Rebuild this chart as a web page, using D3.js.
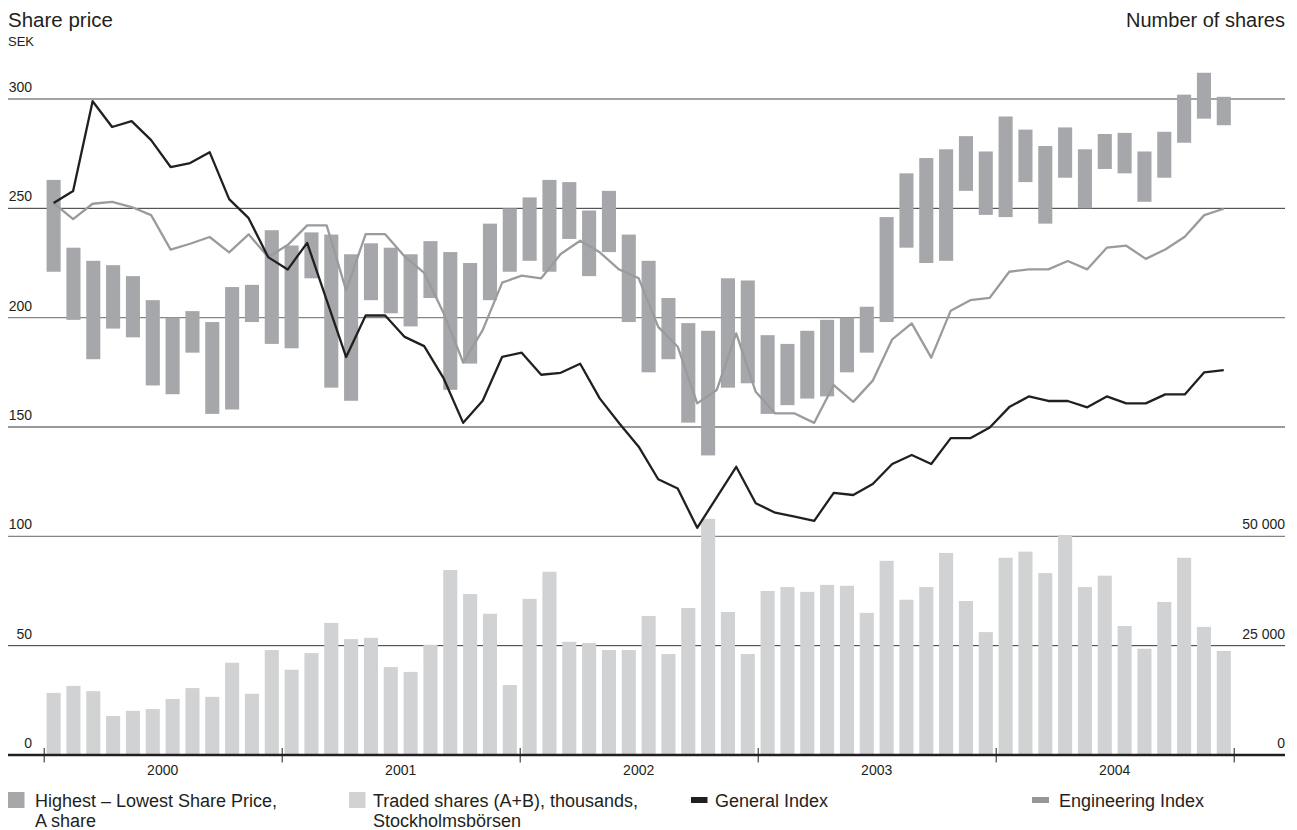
<!DOCTYPE html>
<html>
<head>
<meta charset="utf-8">
<script src="https://cdn.jsdelivr.net/npm/d3@7"></script>
<style>
  html, body { margin: 0; padding: 0; background: #fff; }
  svg { display: block; font-family: "Liberation Sans", Arial, Helvetica, sans-serif; }
</style>
</head>
<body>
<svg id="chart" width="1297" height="830"></svg>
<script>
// Monthly A-share price range (SEK), Jan 2000 – Dec 2004
const years = [2000, 2001, 2002, 2003, 2004];
const priceHigh = [
  263, 232, 226, 224, 219, 208, 200, 203, 198, 214, 215, 240,
  233, 239, 238, 229, 234, 232, 229, 235, 230, 225, 243, 250,
  255, 263, 262, 249, 258, 238, 226, 209, 197.5, 194, 218, 217,
  192, 188, 194, 199, 200, 205, 246, 266, 273, 277, 283, 276,
  292, 286, 278.5, 287, 277, 284, 284.5, 276, 285, 302, 312, 301
];
const priceLow = [
  221, 199, 181, 195, 191, 169, 165, 184, 156, 158, 198, 188,
  186, 218, 168, 162, 208, 202, 196, 209, 167, 179, 208, 221,
  226, 221, 236, 219, 230, 198, 175, 181, 152, 137, 168, 170,
  156, 160, 163, 164, 175, 184, 198, 232, 225, 226, 258, 247,
  246, 262, 243, 264, 250, 268, 266, 253, 264, 280, 291, 288
];
// Traded shares (A+B), thousands
const tradedShares = [
  14200, 15800, 14600, 8900, 10100, 10500, 12800, 15300, 13300, 21100, 14000, 24000,
  19500, 23300, 30200, 26500, 26800, 20100, 19000, 25200, 42300, 36800, 32300, 16000,
  35700, 41900, 25900, 25600, 24000, 24000, 31800, 23100, 33600, 54000, 32700, 23100,
  37500, 38400, 37300, 38900, 38700, 32500, 44400, 35500, 38400, 46200, 35200, 28100,
  45100, 46500, 41600, 50300, 38400, 41000, 29500, 24300, 35000, 45100, 29300, 23800
];
// Index series, rebased to the share price
const generalIndex = [
  252.4, 257.9, 299.0, 287.2, 289.9, 281.2, 268.9, 270.7, 275.7, 254.2, 245.5,
  227.7, 222.0, 234.2, 208.0, 182.0, 201.0, 201.0, 191.2, 187.0, 172.2,
  151.9, 162.0, 182.1, 184.0, 173.9, 174.8, 178.9, 163.1, 151.7, 141.0,
  126.1, 121.9, 103.9, 117.8, 131.8, 115.1, 110.8, 109.0, 107.1, 119.9,
  118.9, 123.9, 133.1, 137.2, 133.1, 144.9, 144.9, 149.8, 159.1, 164.0,
  161.9, 161.9, 159.0, 164.0, 160.8, 160.8, 164.9, 164.9, 175.0, 176.0
];
const engineeringIndex = [
  252.4, 245.1, 252.1, 253.0, 250.6, 246.9, 231.1, 233.8, 236.9, 229.9, 238.1,
  227.7, 233.2, 242.2, 242.2, 212.5, 238.2, 238.2, 228.0, 220.5, 202.0,
  179.5, 194.3, 216.0, 219.2, 218.0, 229.1, 235.2, 229.9, 222.0, 218.0,
  195.8, 186.7, 160.8, 166.9, 192.8, 166.1, 156.2, 156.2, 151.9, 169.2,
  161.5, 171.2, 190.1, 197.4, 181.7, 203.2, 208.0, 209.1, 221.0, 222.1,
  222.1, 225.9, 222.1, 232.0, 232.9, 226.9, 231.2, 237.0, 246.9, 249.8
];
const priceTicks = [0, 50, 100, 150, 200, 250, 300];
const volumeTicks = [0, 25000, 50000];

const ink = "#231f20";
const rangeColor = "#a6a7aa";
const volumeColor = "#d1d2d3";
const engColor = "#9a9b9d";

const svg = d3.select("#chart");
const plotLeft = 43.7, plotRight = 1233.7;
const gridLeft = 8, gridRight = 1285;

const months = d3.range(priceHigh.length);
const x = d3.scaleBand().domain(months).range([plotLeft, plotRight])
  .paddingInner(0.29).paddingOuter(0.145);
const yearX = d3.scaleLinear().domain([years[0], years[years.length - 1] + 1]).range([plotLeft, plotRight]);
const y = d3.scaleLinear().domain([0, 300]).range([755, 99]);
const yVol = d3.scaleLinear().domain([0, 50000]).range([y(0), y(100)]);
const lineX = d3.scaleLinear().domain([0, generalIndex.length - 1])
  .range([x(0) + x.bandwidth() / 2, x(months.length - 1) + x.bandwidth() / 2]);

// Horizontal grid
svg.append("g").selectAll("line")
  .data(priceTicks.filter(d => d > 0))
  .join("line")
  .attr("x1", gridLeft).attr("x2", gridRight)
  .attr("y1", d => y(d)).attr("y2", d => y(d))
  .attr("stroke", d => d % 100 === 0 ? "#858585" : "#333")
  .attr("stroke-width", d => d % 100 === 0 ? 1.4 : 1);

// Left price labels
svg.append("g").selectAll("text")
  .data(priceTicks)
  .join("text")
  .attr("x", 32).attr("y", d => y(d) - 7)
  .attr("text-anchor", "end")
  .attr("font-size", 14).attr("fill", ink)
  .text(d => d);

// Right volume labels
const volFmt = d => d3.format(",")(d).replace(/,/g, " ");
svg.append("g").selectAll("text")
  .data(volumeTicks)
  .join("text")
  .attr("x", gridRight).attr("y", d => yVol(d) - 7)
  .attr("text-anchor", "end")
  .attr("font-size", 14).attr("fill", ink)
  .text(volFmt);

// Traded shares bars
svg.append("g").selectAll("rect")
  .data(tradedShares)
  .join("rect")
  .attr("x", (d, i) => x(i)).attr("width", x.bandwidth())
  .attr("y", d => yVol(d)).attr("height", d => yVol(0) - yVol(d))
  .attr("fill", volumeColor);

// High–low price bars
svg.append("g").selectAll("rect")
  .data(months)
  .join("rect")
  .attr("x", i => x(i)).attr("width", x.bandwidth())
  .attr("y", i => y(priceHigh[i])).attr("height", i => y(priceLow[i]) - y(priceHigh[i]))
  .attr("fill", rangeColor);

// Index lines
const line = d3.line().x((d, i) => lineX(i)).y(d => y(d));
svg.append("path").datum(engineeringIndex)
  .attr("d", line).attr("fill", "none")
  .attr("stroke", engColor).attr("stroke-width", 2.3).attr("stroke-linejoin", "round");
svg.append("path").datum(generalIndex)
  .attr("d", line).attr("fill", "none")
  .attr("stroke", ink).attr("stroke-width", 2.3).attr("stroke-linejoin", "round");

// Baseline and year axis
svg.append("line")
  .attr("x1", gridLeft).attr("x2", gridRight)
  .attr("y1", y(0)).attr("y2", y(0))
  .attr("stroke", ink).attr("stroke-width", 2.6);

const axis = d3.axisBottom(yearX)
  .tickValues(d3.range(years[0], years[years.length - 1] + 2))
  .tickFormat("").tickSizeOuter(0);
const axisG = svg.append("g").attr("transform", `translate(0,${y(0)})`).call(axis);
axisG.select(".domain").remove();
axisG.selectAll(".tick line").attr("y1", -7).attr("y2", 7.5).attr("stroke", ink).attr("stroke-width", 1);

svg.append("g").selectAll("text")
  .data(years)
  .join("text")
  .attr("x", d => yearX(d + 0.5)).attr("y", 775)
  .attr("text-anchor", "middle")
  .attr("font-size", 14).attr("fill", ink)
  .text(d => d);

// Titles
svg.append("text").attr("x", 8).attr("y", 26.5)
  .attr("font-size", 20.5).attr("fill", ink).text("Share price");
svg.append("text").attr("x", 8).attr("y", 46)
  .attr("font-size", 13).attr("fill", ink).text("SEK");
svg.append("text").attr("x", gridRight).attr("y", 26.5)
  .attr("text-anchor", "end")
  .attr("font-size", 20).attr("fill", ink).text("Number of shares");

// Legend
const legend = [
  { sx: 8, sy: 792, sw: 16.5, sh: 16, fill: rangeColor, tx: 35, lines: ["Highest – Lowest Share Price,", "A share"] },
  { sx: 349, sy: 792, sw: 16.5, sh: 16, fill: volumeColor, tx: 373, lines: ["Traded shares (A+B), thousands,", "Stockholmsbörsen"] },
  { sx: 691, sy: 797, sw: 16.5, sh: 6, fill: ink, tx: 715, lines: ["General Index"] },
  { sx: 1032, sy: 797, sw: 17, sh: 6, fill: "#939598", tx: 1059, lines: ["Engineering Index"] }
];
const lg = svg.append("g").selectAll("g").data(legend).join("g");
lg.append("rect")
  .attr("x", d => d.sx).attr("y", d => d.sy)
  .attr("width", d => d.sw).attr("height", d => d.sh)
  .attr("fill", d => d.fill);
lg.append("text")
  .attr("x", d => d.tx).attr("y", 806.5)
  .attr("font-size", 18).attr("fill", ink)
  .selectAll("tspan").data(d => d.lines.map(t => ({ t, x: d.tx })))
  .join("tspan")
  .attr("x", d => d.x).attr("dy", (d, i) => i === 0 ? 0 : 20.7)
  .text(d => d.t);
</script>
</body>
</html>
